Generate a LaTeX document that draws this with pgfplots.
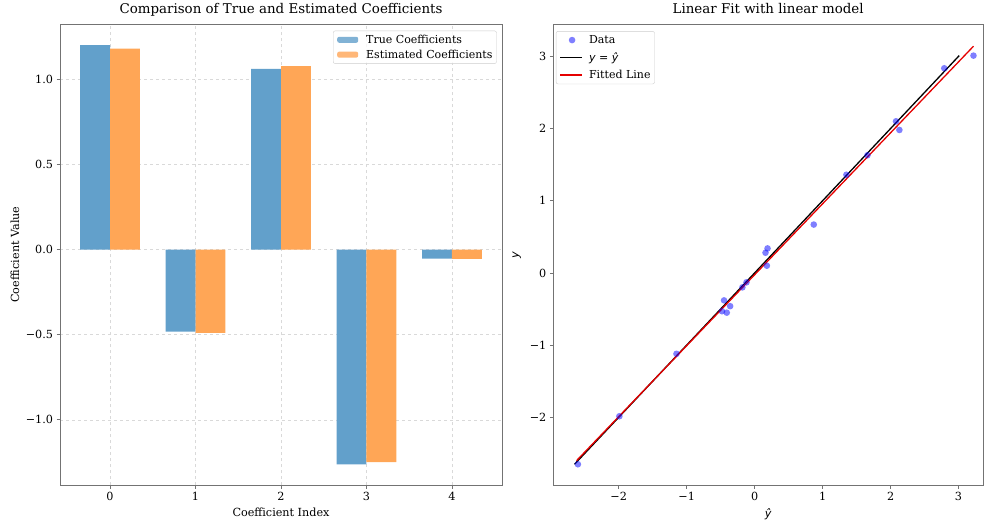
\documentclass[border=0pt]{standalone}
\usepackage{pgfplots}
\pgfplotsset{compat=1.18}
\usepackage{fontspec}
\setmainfont{DejaVu Serif}
\newfontfamily\dvs{DejaVu Sans}
\definecolor{barblue}{RGB}{98,160,203}
\definecolor{barorange}{RGB}{255,166,86}
\definecolor{ptblue}{RGB}{0,0,255}
\pgfplotsset{
  mystyle/.style={
    scale only axis,
    anchor=south west,
    font=\fontsize{11.2}{13}\selectfont,
    tick align=outside, tick pos=left,
    major tick length=3.5pt,
    axis line style={black!55},
    every tick/.style={black!55, line width=0.6pt},
    title style={font=\fontsize{13.4}{16}\selectfont, at={(axis description cs:0.5,1.0102)}, anchor=base},
    legend style={font=\fontsize{11}{13}\selectfont, draw=black!20, rounded corners=2pt,
      fill=white, fill opacity=0.8, text opacity=1, inner sep=2pt},
    legend cell align=left,
  },
  linelegend/.style={legend image code/.code={\draw[line width=1.3pt, ##1] (2pt,0pt) -- (24pt,0pt); \path[draw=none,fill=none] (0pt,0pt) -- (29pt,0pt);}},
  dotlegend/.style={legend image code/.code={\fill[ptblue, fill opacity=0.5, draw=none] (14pt,0pt) circle (3.3pt); \path[draw=none,fill=none] (0pt,0pt) -- (29pt,0pt);}},
  patchlegend/.style={legend image code/.code={\fill[##1] (2pt,-3pt) rectangle (23pt,3pt); \path[draw=none,fill=none] (0pt,0pt) -- (29pt,0pt);}},
}
\begin{document}
\begin{tikzpicture}[x=1pt,y=1pt]
\path (0,0) rectangle (985,519);
\begin{axis}[mystyle,
  at={(60pt,36pt)}, width=442pt, height=461pt,
  xmin=-0.585, xmax=4.585, ymin=-1.385, ymax=1.325,
  xtick={0,1,2,3,4}, xticklabels={0,1,2,3,4},
  ytick={-1,-0.5,0,0.5,1},
  yticklabels={−1.0,−0.5,0.0,0.5,1.0},
  grid=major, grid style={gray!30, dashed, line width=0.4pt},
  title={Comparison of True and Estimated Coefficients},
  xlabel={Coefficient Index}, ylabel={Coefficient Value},
  xlabel style={at={(axis description cs:0.5,-0.0672)}, anchor=base},
  ylabel style={at={(axis description cs:-0.1018,0.5)}, anchor=center},
  legend style={at={(axis description cs:0.988,0.986)}, anchor=north east, row sep=1pt},
]
\addplot[ybar, bar width=0.35, bar shift=-0.175, fill=barblue, draw=none, patchlegend]
  coordinates {(0,1.202) (1,-0.482) (2,1.063) (3,-1.262) (4,-0.053)};
\addlegendentry{True Coefficients}
\addplot[ybar, bar width=0.35, bar shift=0.175, fill=barorange, draw=none, patchlegend]
  coordinates {(0,1.182) (1,-0.490) (2,1.079) (3,-1.250) (4,-0.055)};
\addlegendentry{Estimated Coefficients}
\end{axis}
\begin{axis}[mystyle,
  at={(553.3pt,36pt)}, width=429.7pt, height=461pt,
  xmin=-2.962, xmax=3.36, ymin=-2.94, ymax=3.445,
  xtick={-2,-1,0,1,2,3}, xticklabels={−2,−1,0,1,2,3},
  ytick={-2,-1,0,1,2,3}, yticklabels={−2,−1,0,1,2,3},
  title={Linear Fit with linear model},
  xlabel={\dvs\itshape ŷ}, ylabel={\dvs\itshape y},
  xlabel style={at={(axis description cs:0.5,-0.0629)}, anchor=center},
  ylabel style={at={(axis description cs:-0.0852,0.5)}, anchor=center},
  legend style={at={(axis description cs:0.006,0.985)}, anchor=north west, row sep=3.5pt},
]
\addplot[only marks, color=ptblue, mark=*, mark size=3.3pt,
  mark options={fill=ptblue, fill opacity=0.5, draw opacity=0}, dotlegend]
  coordinates {
  (-2.60,-2.65) (-1.99,-1.985) (-1.15,-1.12) (-0.45,-0.38) (-0.36,-0.46)
  (-0.48,-0.53) (-0.41,-0.55) (-0.18,-0.20) (-0.12,-0.13) (0.16,0.28)
  (0.19,0.34) (0.18,0.10) (0.87,0.67) (1.35,1.36) (1.66,1.63)
  (2.08,2.10) (2.13,1.98) (2.79,2.835) (3.22,3.01)};
\addlegendentry{Data}
\addplot[black, line width=1.3pt, linelegend]
  coordinates {(-2.65,-2.65) (3.01,3.01)};
\addlegendentry{{\dvs\itshape y} {\dvs =} {\dvs\itshape ŷ}}
\addplot[red!90!black, line width=1.3pt, linelegend]
  coordinates {(-2.62,-2.60) (3.22,3.14)};
\addlegendentry{Fitted Line}
\end{axis}
\end{tikzpicture}
\end{document}
